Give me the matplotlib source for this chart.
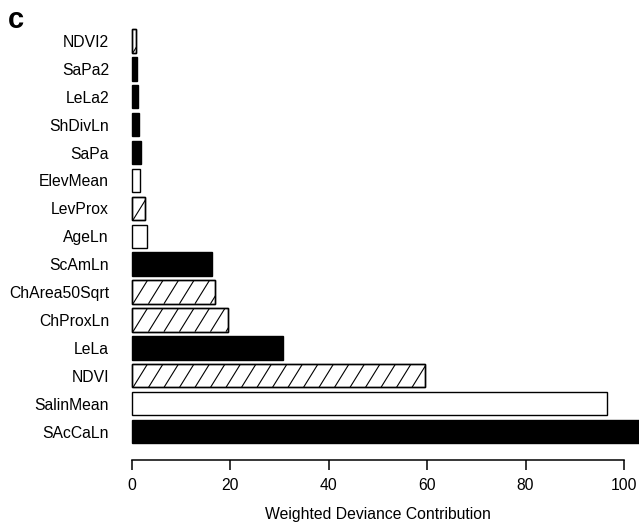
import matplotlib
matplotlib.use("Agg")
import numpy as np
import matplotlib.pyplot as plt
import matplotlib.transforms as mtransforms

# Data (bottom to top)
categories = ["SAcCaLn", "SalinMean", "NDVI", "LeLa", "ChProxLn", "ChArea50Sqrt",
              "ScAmLn", "AgeLn", "LevProx", "ElevMean", "SaPa", "ShDivLn",
              "LeLa2", "SaPa2", "NDVI2"]
values = [105.0, 96.6, 59.6, 30.6, 19.6, 16.9, 16.3, 3.0, 2.7, 1.6, 1.8, 1.4, 1.2, 0.95, 0.75]
fill_type = ["black", "white", "hatch", "black", "hatch", "hatch", "black", "white",
             "hatch", "white", "black", "black", "black", "black", "hatch"]
x_ticks = [0, 20, 40, 60, 80, 100]
x_label = "Weighted Deviance Contribution"
panel_label = "c"

plt.rcParams['font.family'] = ['Liberation Sans', 'DejaVu Sans']

W, H = 639, 527
fig = plt.figure(figsize=(W / 100, H / 100), dpi=100)

left_px, right_px = 132, 639
top_px, bottom_px = 20, 460
ax = fig.add_axes([left_px / W, 1 - bottom_px / H, (right_px - left_px) / W, (bottom_px - top_px) / H])

px_per_unit = (624 - 132) / 100.0
xmax = (right_px - left_px) / px_per_unit
ax.set_xlim(0, xmax)
ax.set_ylim(-1.02, 14.75)
y_px_per_unit = (bottom_px - top_px) / (14.75 + 1.02)

bar_h = 0.84
hatch_spacing = 15.5 / px_per_unit          # horizontal spacing of hatch lines (data units)
hatch_shift = 0.62 * (bar_h * y_px_per_unit) / px_per_unit  # x offset bottom->top

for i, (cat, v, ft) in enumerate(zip(categories, values, fill_type)):
    face = "black" if ft == "black" else "white"
    bars = ax.barh(i, v, height=bar_h, color=face, edgecolor="black", linewidth=1.0,
                   clip_on=False, zorder=2)
    if ft == "hatch":
        patch = bars.patches[0]
        y0, y1 = i - bar_h / 2, i + bar_h / 2
        starts = np.arange(-hatch_shift, v + hatch_spacing, hatch_spacing)
        for s in starts:
            ln, = ax.plot([s, s + hatch_shift], [y0, y1], color="black", lw=0.8,
                          zorder=2.5, solid_capstyle="butt")
            ln.set_clip_path(patch)
        ax.barh(i, v, height=bar_h, color="none", edgecolor="black", linewidth=1.0,
                clip_on=False, zorder=3)

ax.set_yticks(range(len(categories)))
ax.set_yticklabels(categories, fontsize=11.3)
ax.tick_params(axis="y", length=0, pad=16.5)

ax.set_xticks(x_ticks)
ax.set_xticklabels([str(t) for t in x_ticks], fontsize=11.3)
ax.tick_params(axis="x", length=7.2, width=1.1, pad=5.5, direction="out")

for s in ["top", "right", "left"]:
    ax.spines[s].set_visible(False)
ax.spines["bottom"].set_bounds(0, 100)
ax.spines["bottom"].set_linewidth(1.1)

trans = mtransforms.blended_transform_factory(ax.transData, fig.transFigure)
ax.text(50, 1 - 514 / H, x_label, transform=trans, ha="center", va="center", fontsize=11.3)

fig.text(8 / W, 1 - 28 / H, panel_label, fontsize=21, fontweight="bold", ha="left", va="baseline")

fig.savefig("out.png", dpi=100)
